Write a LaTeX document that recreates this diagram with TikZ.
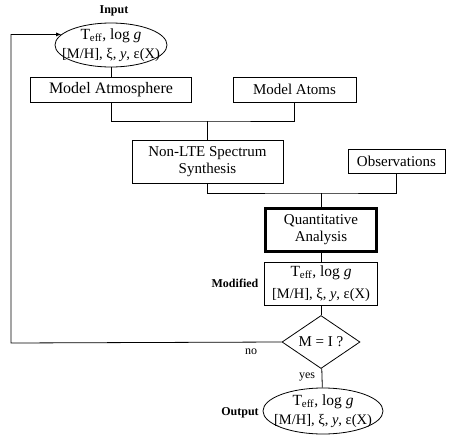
\documentclass[tikz,border=0pt]{standalone}
\usepackage{fontspec}
\setmainfont{Liberation Serif}
\usetikzlibrary{shapes.geometric}

% stellar parameters, two lines
\newcommand{\stellpar}{{\fontsize{15.5}{18}\selectfont T\textsubscript{eff}, log \textit{g}}\\[5pt]
  {\fontsize{14.5}{17}\selectfont [M/H], ξ, \textit{y}, ε(X)}}

\begin{document}
\begin{tikzpicture}[x=1pt,y=-1pt,line width=0.8pt,
    box/.style={draw,rectangle,inner sep=0pt,align=center,font=\fontsize{15}{17}\selectfont},
    oval/.style={draw,ellipse,inner sep=0pt},
    lbl/.style={font=\fontsize{12}{14}\selectfont\bfseries},
    small/.style={font=\fontsize{12}{14}\selectfont}]
  \useasboundingbox (0,0) rectangle (455,434);

  % input parameters
  \node[lbl] (inlbl) at (114,11) {Input};
  \node[oval,minimum width=112pt,minimum height=44pt,
        label={[align=center]center:\stellpar}] (inp) at (111,45) {};

  % models
  \node[box,minimum width=161pt,minimum height=25pt,font=\fontsize{16}{18}\selectfont] (atm) at (111,90) {Model Atmosphere};
  \node[box,minimum width=123pt,minimum height=25pt] (atoms) at (294.5,89.5) {Model Atoms};

  % synthesis and observations
  \node[box,minimum width=151pt,minimum height=43pt] (nlte) at (207.5,161.5) {Non-LTE Spectrum\\Synthesis};
  \node[box,minimum width=97pt,minimum height=24pt] (obs) at (396.5,161) {Observations};

  % analysis
  \node[box,line width=2.2pt,minimum width=111pt,minimum height=43pt] (quant) at (321,230) {Quantitative\\Analysis};

  % modified parameters
  \node[lbl] (modlbl) at (235,283) {Modified};
  \node[box,minimum width=113pt,minimum height=43pt] (mod) at (321,283.5) {\stellpar};

  % test
  \node[draw,diamond,inner sep=0pt,aspect=1.47,minimum width=78pt,minimum height=53pt,
        font=\fontsize{15}{17}\selectfont] (dia) at (321,342) {M = I ?};
  \node[small] (no) at (251,352) {no};
  \node[small] (yes) at (307,377) {yes};

  % output parameters
  \node[lbl] (outlbl) at (240,413) {Output};
  \node[oval,minimum width=120pt,minimum height=46pt,
        label={[align=center]center:\stellpar}] (out) at (323,411) {};

  % connectors
  \coordinate (j1) at (207.5,121);
  \coordinate (j2) at (321,193);
  \coordinate (fb) at (11,343);
  \draw (inp) -- (atm);
  \draw (atm.south) |- (j1) -| (atoms.south);
  \draw (j1) -- (nlte.north);
  \draw (nlte.south) |- (j2) -| (obs.south);
  \draw (j2) -- (quant.north);
  \draw (quant) -- (mod);
  \draw (mod) -- (dia);
  \draw (dia) -- (out);
  % back to input
  \draw[-latex] (dia.west) -- (fb) |- (inp.168);
\end{tikzpicture}
\end{document}
